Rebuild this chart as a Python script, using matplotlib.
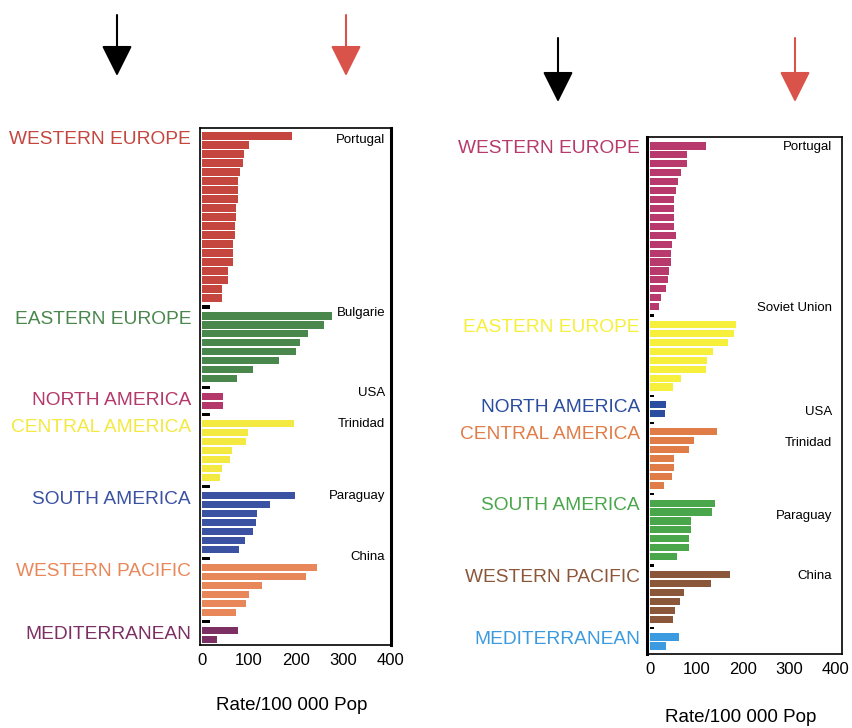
import matplotlib
matplotlib.use("Agg")
import matplotlib.pyplot as plt
from matplotlib.transforms import blended_transform_factory

plt.rcParams['font.family'] = ['Liberation Sans', 'DejaVu Sans']

regions = ["WESTERN EUROPE", "EASTERN EUROPE", "NORTH AMERICA", "CENTRAL AMERICA",
           "SOUTH AMERICA", "WESTERN PACIFIC", "MEDITERRANEAN"]
xticks = [0, 100, 200, 300, 400]
xlabel = "Rate/100 000 Pop"

# left chart, rates per country, grouped by region
left_we = [191, 100, 90, 87, 80, 77, 76, 76, 72, 72, 70, 70, 67, 67, 67, 55, 55, 42, 42]
left_ee = [276, 260, 225, 208, 200, 164, 109, 75]
left_na = [44, 44]
left_ca = [196, 97, 93, 63, 60, 42, 38]
left_sa = [199, 144, 118, 114, 108, 92, 79]
left_wp = [244, 221, 127, 100, 93, 72]
left_med = [76, 33]
left_countries = ["Portugal", "Bulgarie", "USA", "Trinidad", "Paraguay", "China", None]

# right chart
right_we = [120, 79, 79, 67, 61, 56, 52, 52, 52, 52, 56, 47, 45, 45, 41, 39, 35, 24, 20]
right_ee = [184, 180, 167, 135, 123, 120, 67, 49]
right_na = [35, 32]
right_ca = [144, 94, 83, 52, 52, 47, 29]
right_sa = [139, 134, 88, 88, 84, 83, 59]
right_wp = [173, 132, 73, 65, 54, 50]
right_med = [63, 35]
right_countries = ["Portugal", "Soviet Union", "USA", "Trinidad", "Paraguay", "China", None]

left_colors = ["#c4463f", "#4a874c", "#b5386a", "#f3e940", "#3b52a3", "#e8875a", "#7b2f63"]
right_colors = ["#b8396c", "#f6f03c", "#2b4d9f", "#e07c48", "#4aa64b", "#8a573a", "#3c9be0"]

RED_ARROW = "#d9534a"


def draw_panel(ax, groups, colors, countries, country_dy, gap_len, gap_h,
               label_x, country_x, label_dy):
    row = 0
    starts = []
    for i, vals in enumerate(groups):
        if i > 0:
            ax.barh(row, gap_len, height=gap_h, color="black")
            row += 1
        starts.append(row)
        ax.barh(list(range(row, row + len(vals))), vals, height=0.8, color=colors[i])
        row += len(vals)

    tr = blended_transform_factory(ax.transAxes, ax.transData)
    for i, name in enumerate(regions):
        ax.text(label_x, starts[i] + label_dy, name, transform=tr, ha="right", va="center",
                fontsize=13.8, color=colors[i], clip_on=False)
    for i, c in enumerate(countries):
        if c:
            ax.text(country_x, starts[i] + country_dy[i], c, transform=tr, ha="right",
                    va="center", fontsize=9.5, color="black")

    ax.set_xticks(xticks)
    ax.set_yticks([])
    ax.tick_params(axis="x", length=0, labelsize=12, pad=6)
    for s in ax.spines.values():
        s.set_linewidth(1.2)


fig = plt.figure(figsize=(8.53, 7.28), dpi=100)

# left panel
ax1 = fig.add_axes([200 / 853, 1 - 645 / 728, 191 / 853, 517 / 728])
draw_panel(ax1, [left_we, left_ee, left_na, left_ca, left_sa, left_wp, left_med],
           left_colors, left_countries, [0.4, -0.3, -0.4, 0.0, 0.0, -1.2, 0],
           gap_len=17, gap_h=0.35, label_x=-0.047, country_x=0.97, label_dy=0.4)
ax1.set_xlim(-4, 402)
ax1.set_ylim(56.6, -0.9)
ax1.spines["right"].set_linewidth(2.2)

# right panel
ax2 = fig.add_axes([647 / 853, 1 - 654 / 728, 195 / 853, 517 / 728])
draw_panel(ax2, [right_we, right_ee, right_na, right_ca, right_sa, right_wp, right_med],
           right_colors, right_countries, [0.1, -1.9, 0.8, 1.3, 1.4, 0.2, 0],
           gap_len=8, gap_h=0.25, label_x=-0.036, country_x=0.95, label_dy=0.3)
ax2.set_xlim(-6.5, 413)
ax2.set_ylim(56.9, -1.0)
ax2.spines["left"].set_linewidth(2.2)

fig.text(292 / 853, 1 - 705 / 728, xlabel, ha="center", va="center", fontsize=13.5)
fig.text(741 / 853, 1 - 717 / 728, xlabel, ha="center", va="center", fontsize=13.5)

# arrows above the panels
for x, y0, y1, col in [(117, 15, 76, "black"), (346, 15, 76, RED_ARROW),
                       (558, 38, 102, "black"), (795, 38, 102, RED_ARROW)]:
    fig.add_artist(matplotlib.patches.FancyArrowPatch(
        (x / 853, 1 - y0 / 728), (x / 853, 1 - y1 / 728), transform=fig.transFigure,
        arrowstyle="-|>,head_length=1.6,head_width=0.8", mutation_scale=12,
        color=col, lw=1.5, shrinkA=0, shrinkB=0))

fig.savefig("out.png", dpi=100)
